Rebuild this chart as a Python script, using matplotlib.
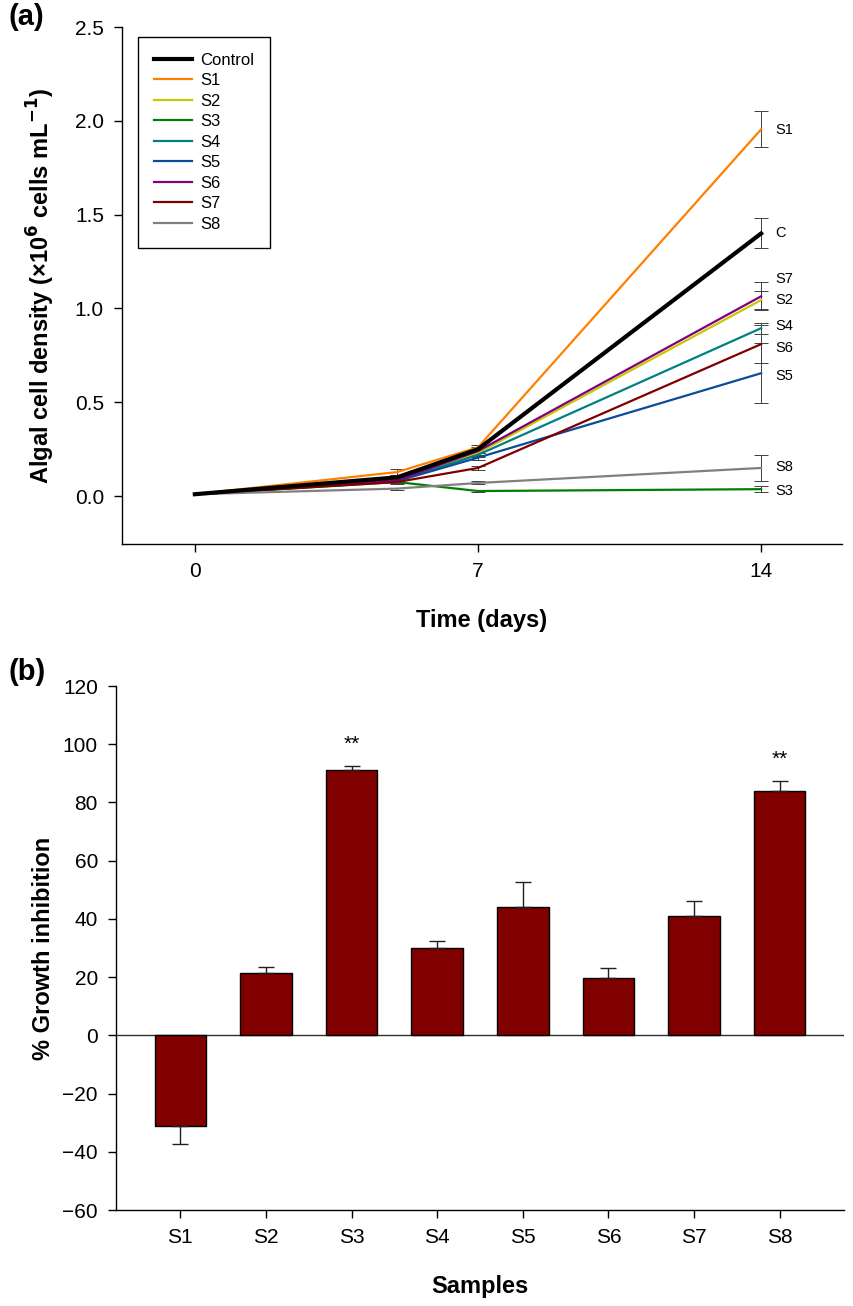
import numpy as np
import matplotlib
matplotlib.use("Agg")
import matplotlib.pyplot as plt

plt.rcParams['font.family'] = ['Liberation Sans', 'DejaVu Sans']

# panel (a): algal density over time
days = [0, 5, 7, 14]
series = ['Control', 'S1', 'S2', 'S3', 'S4', 'S5', 'S6', 'S7', 'S8']
density = {
    'Control': [0.01, 0.100, 0.250, 1.400],
    'S1': [0.01, 0.128, 0.260, 1.955],
    'S2': [0.01, 0.090, 0.230, 1.045],
    'S3': [0.01, 0.075, 0.027, 0.037],
    'S4': [0.01, 0.080, 0.220, 0.895],
    'S5': [0.01, 0.080, 0.205, 0.655],
    'S6': [0.01, 0.085, 0.240, 1.065],
    'S7': [0.01, 0.075, 0.150, 0.810],
    'S8': [0.01, 0.040, 0.070, 0.150],
}
density_err = {
    'Control': [0, 0.010, 0.010, 0.080],
    'S1': [0, 0.016, 0.010, 0.095],
    'S2': [0, 0.010, 0.010, 0.050],
    'S3': [0, 0.005, 0.004, 0.015],
    'S4': [0, 0.010, 0.010, 0.030],
    'S5': [0, 0.010, 0.010, 0.160],
    'S6': [0, 0.010, 0.010, 0.075],
    'S7': [0, 0.010, 0.010, 0.100],
    'S8': [0, 0.005, 0.008, 0.070],
}
colors = {
    'Control': 'black', 'S1': '#FF8000', 'S2': '#C8C800', 'S3': '#008000',
    'S4': '#008080', 'S5': '#0A4C99', 'S6': '#800080', 'S7': '#800000',
    'S8': '#808080',
}
end_labels = ['S1', 'C', 'S7', 'S2', 'S4', 'S6', 'S5', 'S8', 'S3']
end_label_y = [1.95, 1.40, 1.155, 1.045, 0.905, 0.79, 0.64, 0.155, 0.025]

# panel (b): growth inhibition
samples = ['S1', 'S2', 'S3', 'S4', 'S5', 'S6', 'S7', 'S8']
inhibition = [-31.0, 21.5, 91.0, 30.0, 44.2, 19.7, 41.0, 84.0]
inhibition_err = [6.2, 2.1, 1.7, 2.3, 8.6, 3.4, 5.2, 3.4]
signif = ['', '', '**', '', '', '', '', '**']

fig = plt.figure(figsize=(8.54, 13.06), dpi=100)

# ---- (a)
ax1 = fig.add_axes([0.1429, 0.5835, 0.8431, 0.3958])
for name in series[1:] + series[:1]:
    lw = 3 if name == 'Control' else 1.6
    ax1.plot(days, density[name], color=colors[name], lw=lw, label=name,
             zorder=3 if name == 'Control' else 2)
    ax1.errorbar(days[1:], density[name][1:], yerr=density_err[name][1:], fmt='none',
                 ecolor='#404040', elinewidth=0.7, capsize=5, capthick=0.7, zorder=1)
handles, labels = ax1.get_legend_handles_labels()
order = [labels.index(s) for s in series]
leg = ax1.legend([handles[i] for i in order], [labels[i] for i in order],
                 loc='upper left', bbox_to_anchor=(0.022, 0.981), fontsize=12,
                 fancybox=False, edgecolor='black', framealpha=1, handlelength=2.3,
                 labelspacing=0.33, borderpad=0.95, handletextpad=0.5, borderaxespad=0)
leg.get_frame().set_linewidth(1.0)
for lab, yv in zip(end_labels, end_label_y):
    ax1.text(14.35, yv, lab, fontsize=10.5, va='center', ha='left')
ax1.set_xlim(-1.8, 16)
ax1.set_ylim(-0.255, 2.5)
ax1.set_xticks([0, 7, 14])
ax1.set_yticks(np.arange(0, 2.51, 0.5))
ax1.set_yticklabels([f'{v:.1f}' for v in np.arange(0, 2.51, 0.5)])
ax1.set_xlabel('Time (days)', fontsize=17, fontweight='bold', labelpad=20)
ax1.set_ylabel('Algal cell density (×10$^\\mathbf{6}$ cells mL$^\\mathbf{-1}$)',
               fontsize=17, fontweight='bold', labelpad=13)

# ---- (b)
ax2 = fig.add_axes([0.1358, 0.0735, 0.8525, 0.4012])
x = np.arange(len(samples))
lower = [e if v < 0 else 0 for v, e in zip(inhibition, inhibition_err)]
upper = [e if v >= 0 else 0 for v, e in zip(inhibition, inhibition_err)]
ax2.bar(x, inhibition, width=0.6, color='#800000', edgecolor='black', linewidth=1.0,
        yerr=[lower, upper], error_kw=dict(ecolor='#202020', elinewidth=1.0,
                                           capsize=6, capthick=1.0), zorder=2)
ax2.axhline(0, color='#303030', lw=1.0, zorder=1)
for xi, v, e, s in zip(x, inhibition, inhibition_err, signif):
    if s:
        ax2.text(xi, v + e + 4, s, ha='center', va='bottom', fontsize=15)
ax2.set_xlim(-0.75, 7.75)
ax2.set_ylim(-60, 120)
ax2.set_xticks(x)
ax2.set_xticklabels(samples)
ax2.set_yticks(np.arange(-60, 121, 20))
ax2.set_xlabel('Samples', fontsize=17, fontweight='bold', labelpad=20)
ax2.set_ylabel('% Growth inhibition', fontsize=17, fontweight='bold', labelpad=5)

for ax in (ax1, ax2):
    ax.spines['top'].set_visible(False)
    ax.spines['right'].set_visible(False)
    ax.spines['left'].set_linewidth(1.0)
    ax.spines['bottom'].set_linewidth(1.0)
    ax.tick_params(direction='out', length=6, width=1.0, labelsize=15, pad=7)

fig.text(0.010, 0.998, '(a)', fontsize=21, fontweight='bold', va='top', ha='left')
fig.text(0.010, 0.496, '(b)', fontsize=21, fontweight='bold', va='top', ha='left')

fig.savefig('out.png', dpi=100)
